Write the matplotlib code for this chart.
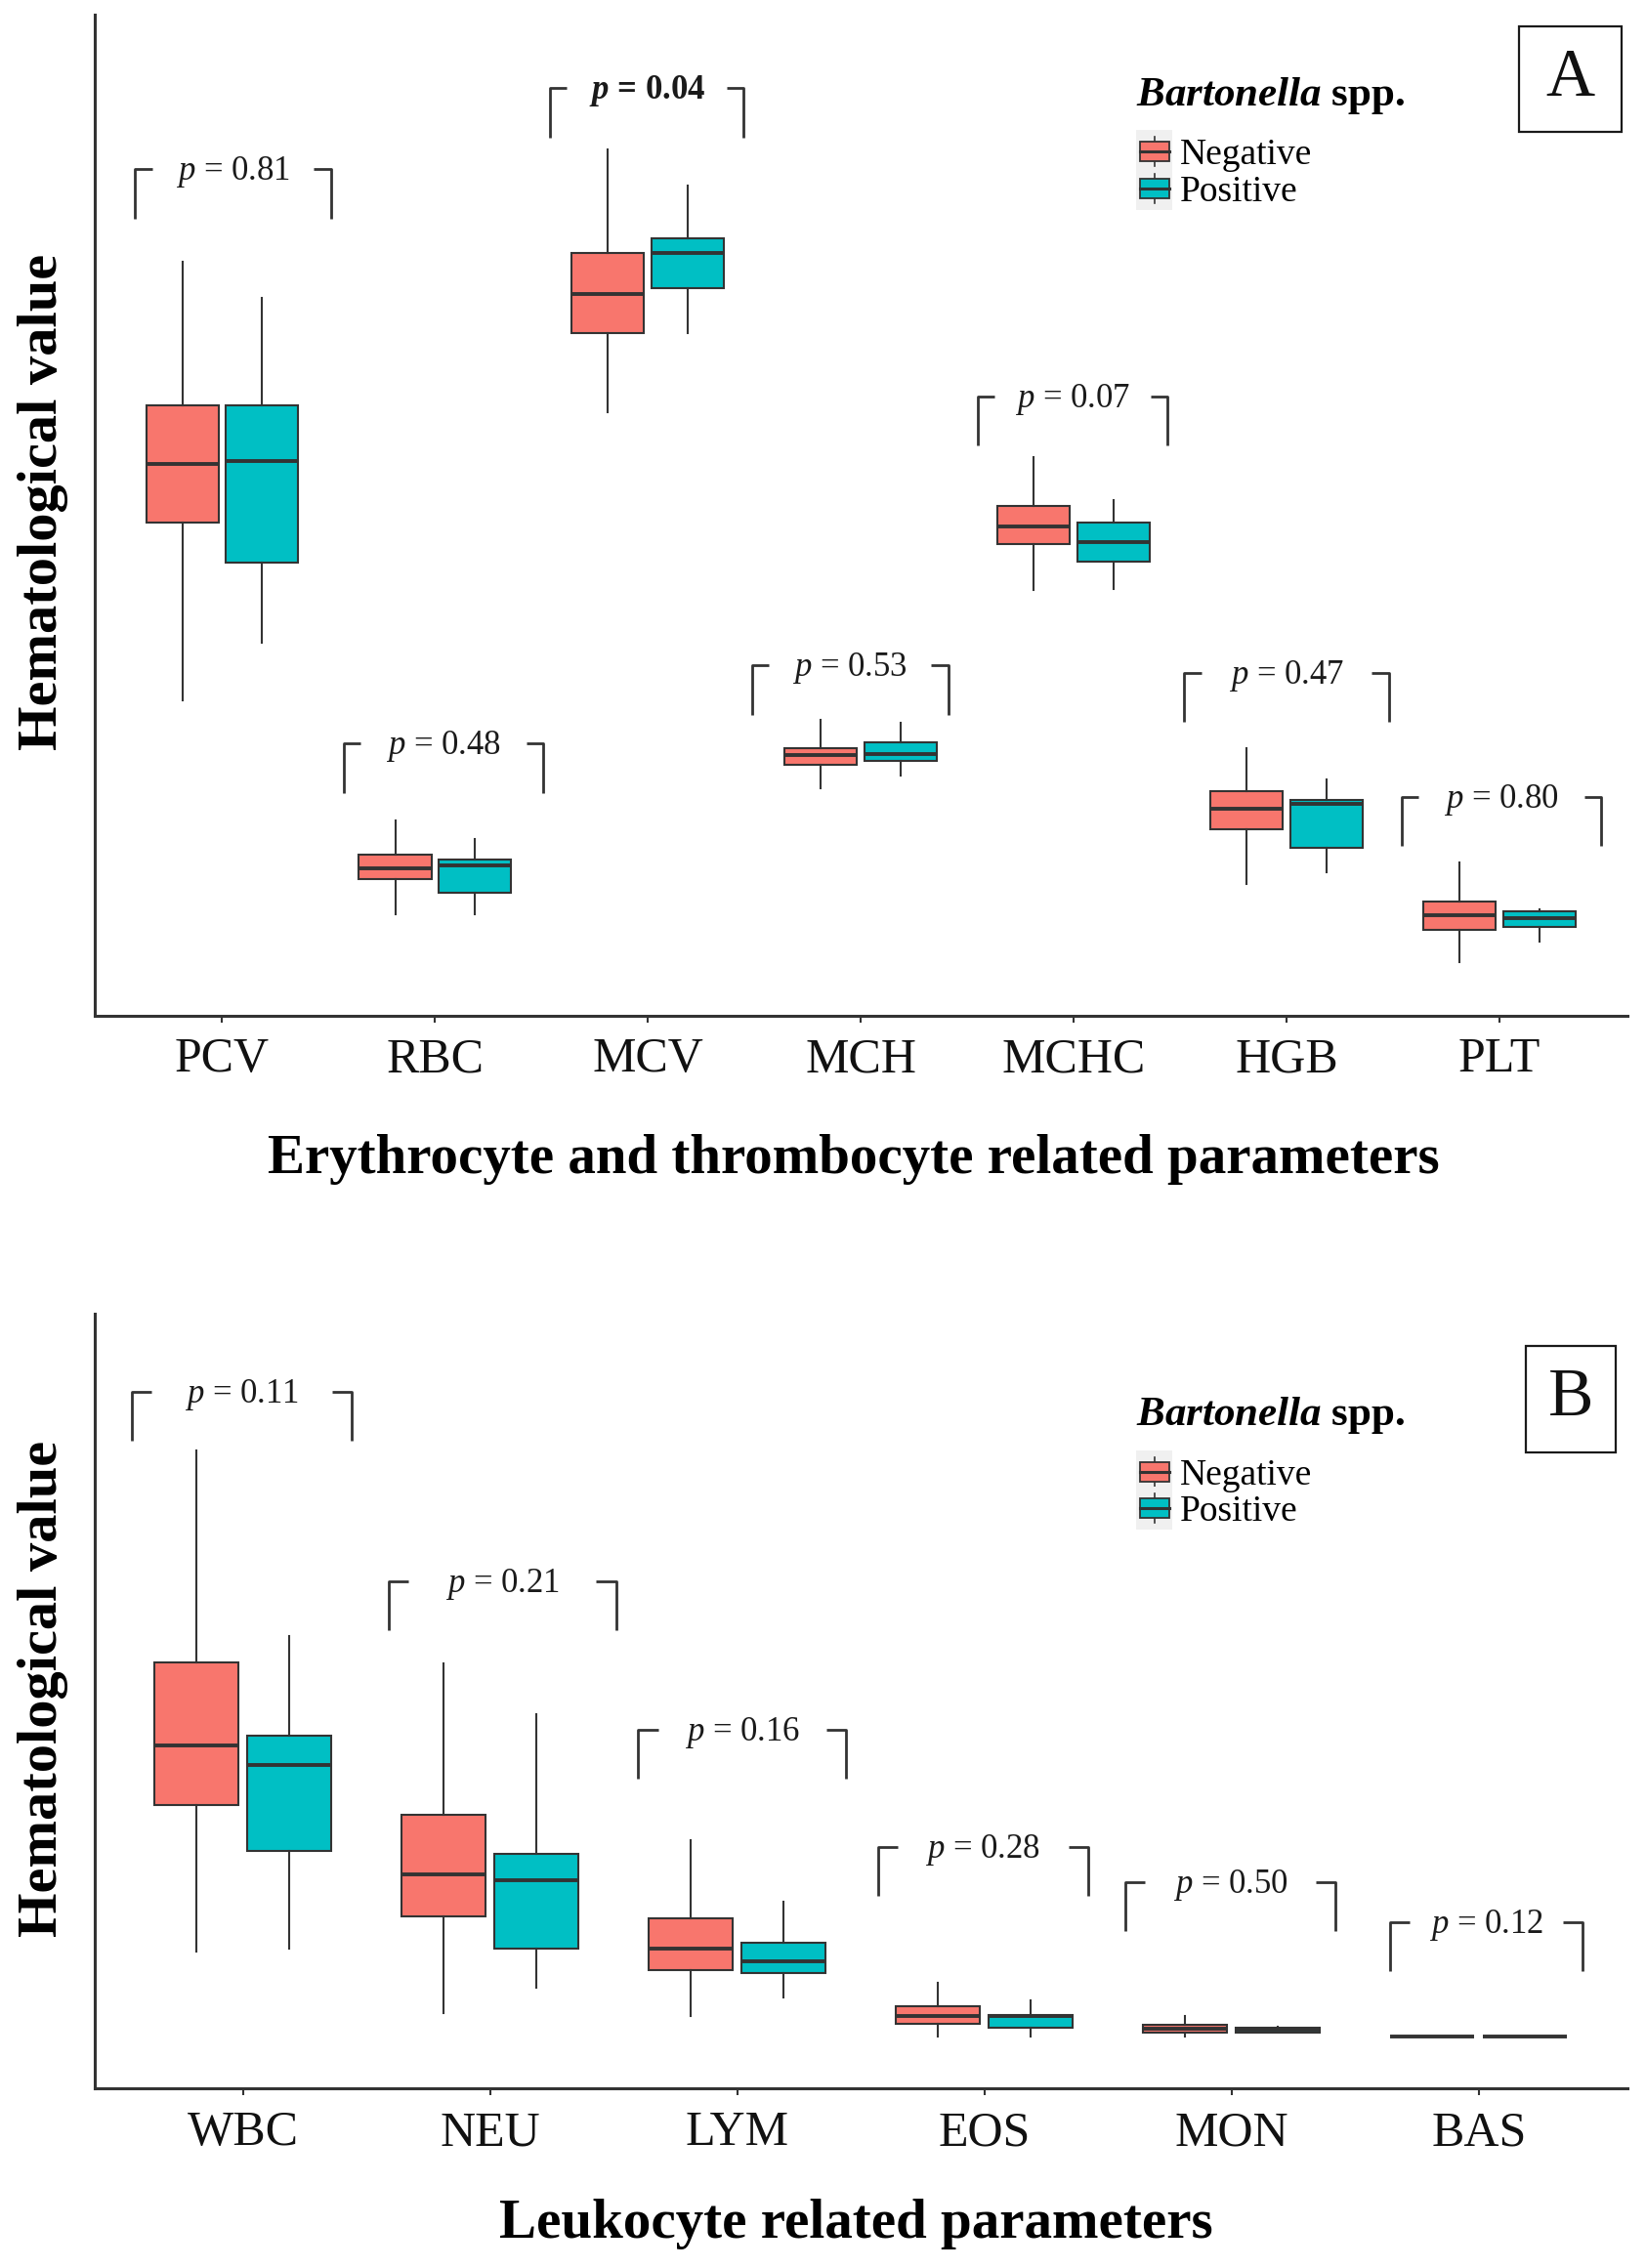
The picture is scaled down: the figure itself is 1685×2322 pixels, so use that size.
import numpy as np
import matplotlib
matplotlib.use("Agg")
import matplotlib.pyplot as plt
from matplotlib.patches import Rectangle, Patch
from matplotlib.lines import Line2D
from matplotlib.legend_handler import HandlerBase

plt.rcParams['font.family'] = ['Liberation Serif', 'DejaVu Serif']
plt.rcParams['mathtext.fontset'] = 'custom'
plt.rcParams['mathtext.rm'] = 'Liberation Serif'
plt.rcParams['mathtext.it'] = 'Liberation Serif:italic'
plt.rcParams['mathtext.bf'] = 'Liberation Serif:bold'
plt.rcParams['mathtext.bfit'] = 'Liberation Serif:italic:bold'

NEG_COLOR = "#F8766D"
POS_COLOR = "#00BFC4"
LINE_COLOR = "#333333"

# Panel A - box stats per parameter: [lower whisker, q1, median, q3, upper whisker]
cats_a = ["PCV", "RBC", "MCV", "MCH", "MCHC", "HGB", "PLT"]
neg_a = [[218, 341, 381, 422, 521],
         [70, 94, 102, 111, 135],
         [417, 472, 499, 527, 599],
         [157, 173, 180, 185, 204],
         [294, 326, 338, 352, 386],
         [91, 129, 143, 155, 185],
         [37, 59, 69, 79, 106]]
pos_a = [[258, 313, 383, 422, 496],
         [70, 85, 104, 108, 122],
         [472, 503, 527, 537, 574],
         [166, 176, 181, 189, 202],
         [295, 314, 327, 341, 356],
         [99, 116, 146, 149, 163],
         [51, 61, 67, 72, 73]]
pvals_a = ["0.81", "0.48", "0.04", "0.53", "0.07", "0.47", "0.80"]
signif_a = [False, False, True, False, False, False, False]
brk_left_a = [0.59, 1.57, 2.54, 3.49, 4.55, 5.52, 6.54]
brk_right_a = [1.51, 2.51, 3.45, 4.41, 5.44, 6.48, 7.48]
brk_top_a = [585, 188, 641, 242, 428, 237, 151]

# Panel B
cats_b = ["WBC", "NEU", "LYM", "EOS", "MON", "BAS"]
neg_b = [[95, 196, 237, 295, 441],
         [52, 119, 148, 189, 294],
         [50, 82, 97, 118, 172],
         [36, 45, 50, 57, 73],
         [36, 39, 41.5, 44, 50],
         [36, 36, 36, 36, 36]]
pos_b = [[97, 164, 224, 244, 313],
         [70, 97, 144, 162, 259],
         [63, 80, 88, 101, 129],
         [36, 42, 50, 51, 61],
         [39, 39, 41, 42, 43],
         [36, 36, 36, 36, 36]]
pvals_b = ["0.11", "0.21", "0.16", "0.28", "0.50", "0.12"]
signif_b = [False] * 6
brk_left_b = [0.55, 1.59, 2.60, 3.57, 4.57, 5.64]
brk_right_b = [1.44, 2.51, 3.44, 4.42, 5.42, 6.42]
brk_top_b = [482, 351, 248, 167, 143, 115]


class BoxKeyHandler(HandlerBase):
    """Legend key drawn like a small ggplot boxplot."""
    def create_artists(self, legend, orig_handle, xdescent, ydescent,
                       width, height, fontsize, trans):
        x0, y0 = -xdescent, -ydescent
        cx, cy = x0 + width / 2, y0 + height / 2
        bg = Rectangle((x0, y0 - 0.16 * height), width, 1.32 * height,
                       facecolor="#f0f0f0", edgecolor="none", transform=trans)
        whis = Line2D([cx, cx], [cy - 0.45 * height, cy + 0.45 * height],
                      color=LINE_COLOR, lw=1.2, transform=trans)
        bw, bh = 0.82 * width, 0.6 * height
        box = Rectangle((cx - bw / 2, cy - bh / 2), bw, bh,
                        facecolor=orig_handle.get_facecolor(),
                        edgecolor=LINE_COLOR, lw=1.3, transform=trans)
        med = Line2D([cx - bw / 2, cx + bw / 2], [cy, cy], color=LINE_COLOR,
                     lw=2.2, transform=trans)
        return [bg, whis, box, med]


def to_stats(rows):
    return [dict(whislo=r[0], q1=r[1], med=r[2], q3=r[3], whishi=r[4], fliers=[])
            for r in rows]


def draw_panel(ax, cats, neg, pos, pvals, signif, brk_left, brk_right, brk_top, ymax):
    x = np.arange(1, len(cats) + 1)
    for rows, off, color in ((neg, -0.1875, NEG_COLOR), (pos, 0.1875, POS_COLOR)):
        ax.bxp(to_stats(rows), positions=x + off, widths=0.34, patch_artist=True,
               showcaps=False, showfliers=False, manage_ticks=False,
               boxprops=dict(facecolor=color, edgecolor=LINE_COLOR, linewidth=1.5),
               medianprops=dict(color=LINE_COLOR, linewidth=2.8, solid_capstyle='butt'),
               whiskerprops=dict(color=LINE_COLOR, linewidth=1.5))

    # p-value brackets
    drop, arm = 34, 0.08
    for lo, hi, top, p, sig in zip(brk_left, brk_right, brk_top, pvals, signif):
        ax.plot([lo, lo, lo + arm], [top - drop, top, top], color=LINE_COLOR, lw=2.0,
                solid_capstyle='butt')
        ax.plot([hi - arm, hi, hi], [top, top, top - drop], color=LINE_COLOR, lw=2.0,
                solid_capstyle='butt')
        if sig:
            label = r"$\mathbfit{p}$ = " + p
            weight = 'bold'
        else:
            label = r"$p$ = " + p
            weight = 'normal'
        ax.text((lo + hi) / 2, top - 2, label, ha='center', va='center', fontsize=25,
                fontweight=weight, color='#1a1a1a')

    ax.set_xlim(0.4, len(cats) + 0.6)
    ax.set_ylim(0, ymax)
    ax.set_xticks(x)
    ax.set_xticklabels(cats, fontsize=36, color='#111111')
    ax.set_yticks([])
    ax.tick_params(axis='x', length=5, width=1.5, color=LINE_COLOR, pad=11)
    for side in ('top', 'right'):
        ax.spines[side].set_visible(False)
    for side in ('left', 'bottom'):
        ax.spines[side].set_linewidth(2.2)
        ax.spines[side].set_color(LINE_COLOR)


def add_legend(ax, fig, anchor_y):
    handles = [Patch(facecolor=NEG_COLOR), Patch(facecolor=POS_COLOR)]
    leg = ax.legend(handles, ["Negative", "Positive"], loc='upper left',
                    bbox_to_anchor=(0.6905, anchor_y), bbox_transform=fig.transFigure,
                    frameon=False, fontsize=27, borderpad=0, borderaxespad=0,
                    handlelength=0.98, handleheight=1.0, handletextpad=0.2,
                    labelspacing=0.0, alignment='left',
                    title=r"$\mathbfit{Bartonella}$ spp.",
                    title_fontproperties=dict(size=31, weight='bold'),
                    handler_map={Patch: BoxKeyHandler()})
    leg._legend_box.sep = 14
    return leg


def panel_label(fig, x, y, w, h, letter):
    fig.add_artist(Rectangle((x, y), w, h, transform=fig.transFigure, fill=False,
                             linewidth=1.6, edgecolor='#1a1a1a'))
    fig.text(x + w / 2, y + h / 2, letter, ha='center', va='center', fontsize=50,
             color='#111111')


fig = plt.figure(figsize=(16.85, 23.22), dpi=100)
ax_a = fig.add_axes([0.0574, 0.5523, 0.9311, 0.4413])
ax_b = fig.add_axes([0.0574, 0.0791, 0.9311, 0.3418])

draw_panel(ax_a, cats_a, neg_a, pos_a, pvals_a, signif_a,
           brk_left_a, brk_right_a, brk_top_a, 692)
draw_panel(ax_b, cats_b, neg_b, pos_b, pvals_b, signif_b,
           brk_left_b, brk_right_b, brk_top_b, 536)

add_legend(ax_a, fig, 0.9668)
add_legend(ax_b, fig, 0.3848)

panel_label(fig, 0.9228, 0.9419, 0.0623, 0.0465, "A")
panel_label(fig, 0.9270, 0.3596, 0.0546, 0.0469, "B")

fig.text(0.0264, 0.7787, "Hematological value", rotation=90, ha='center', va='center',
         fontsize=42, fontweight='bold')
fig.text(0.0264, 0.2555, "Hematological value", rotation=90, ha='center', va='center',
         fontsize=42, fontweight='bold')
fig.text(0.5184, 0.4828, "Erythrocyte and thrombocyte related parameters", ha='center',
         va='baseline', fontsize=41, fontweight='bold')
fig.text(0.5202, 0.0135, "Leukocyte related parameters", ha='center',
         va='baseline', fontsize=41, fontweight='bold')

fig.savefig("out.png", dpi=100)
